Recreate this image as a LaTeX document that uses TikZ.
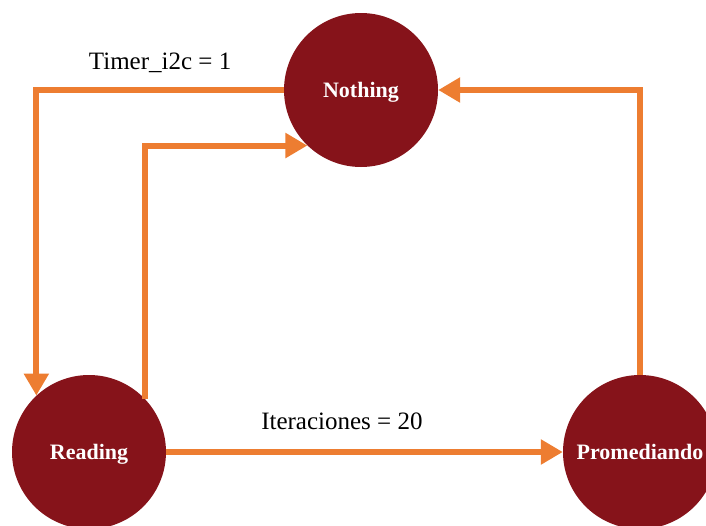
\documentclass[tikz,border=0pt]{standalone}
\usepackage{fontspec}
\setmainfont{Liberation Serif}
\usetikzlibrary{arrows.meta}
\definecolor{stateRed}{HTML}{86131A}
\definecolor{edgeOrange}{HTML}{ED7D31}
\begin{document}
\begin{tikzpicture}[x=1pt,y=-1pt,
  state/.style={circle, fill=stateRed, minimum size=154pt, inner sep=0pt,
    text depth=0pt, text=white, font=\fontsize{22}{26}\selectfont\bfseries},
  edge/.style={draw=edgeOrange, line width=6pt,
    -{Triangle[length=22pt,width=24pt]}},
  lbl/.style={font=\fontsize{25}{30}\selectfont, text=black}]
\useasboundingbox (0,0) rectangle (706,525);

% states
\node[state] (nothing) at (361,90)  {Nothing};
\node[state] (reading) at (89,452)  {Reading};
\node[state] (prom)    at (640,452) {Promediando};

% transitions
\draw[edge] (nothing.west) -| (reading.133.5)
  node[lbl, pos=0.25, yshift=27pt] (lblTimer) {Timer\_i2c = 1};
\draw[edge] (reading.43.3) |- (nothing.226.7);
\draw[edge] (reading.east) -- (prom.west)
  node[lbl, pos=0.443, yshift=31pt] (lblIter) {Iteraciones = 20};
\draw[edge] (prom.north) |- (nothing.east);
\end{tikzpicture}
\end{document}
